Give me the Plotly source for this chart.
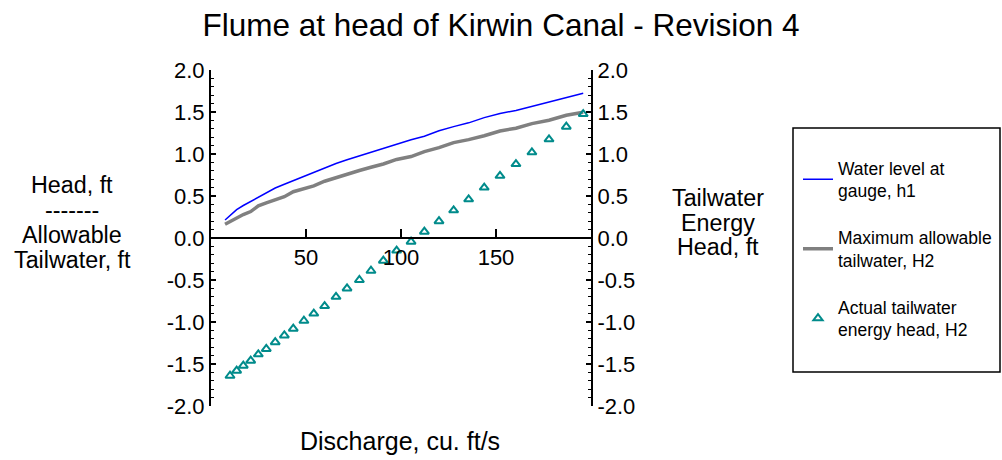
import plotly.graph_objects as go

# ---- data ----
discharge_line = [7.4, 10, 13.5, 17, 20.9, 24.9, 29.1, 33.8, 38.6, 43.3, 48.9, 54.1, 59.8, 65.8,
                  71.6, 78.1, 84.2, 90.7, 97.7, 105.3, 112.3, 120, 127.7, 135.6, 143.8, 152.1,
                  160.5, 168.9, 177.9, 187, 195.9]
h1_water_level = [0.214, 0.262, 0.338, 0.387, 0.435, 0.482, 0.538, 0.595, 0.640, 0.683, 0.740,
                  0.788, 0.833, 0.887, 0.931, 0.976, 1.026, 1.063, 1.114, 1.170, 1.211, 1.276,
                  1.326, 1.371, 1.433, 1.483, 1.518, 1.568, 1.614, 1.674, 1.724]
h2_max_allowable = [0.163, 0.196, 0.232, 0.279, 0.315, 0.383, 0.419, 0.452, 0.492, 0.551, 0.582,
                    0.621, 0.676, 0.720, 0.760, 0.804, 0.842, 0.881, 0.935, 0.970, 1.029, 1.076,
                    1.136, 1.171, 1.218, 1.274, 1.307, 1.362, 1.402, 1.461, 1.496]
discharge_points = [10.0, 13.5, 17.0, 20.9, 24.9, 29.1, 33.8, 38.6, 43.3, 48.9, 54.1, 59.8, 65.8,
                    71.6, 78.1, 84.2, 90.7, 97.7, 105.3, 112.3, 120.0, 127.7, 135.6, 143.8, 152.1,
                    160.5, 168.9, 177.9, 187.0, 195.9]
h2_actual = [-1.64, -1.58, -1.52, -1.46, -1.385, -1.32, -1.24, -1.16, -1.08, -0.985, -0.90, -0.81,
             -0.70, -0.60, -0.50, -0.39, -0.27, -0.15, -0.044, 0.075, 0.20, 0.33, 0.46, 0.60,
             0.74, 0.88, 1.02, 1.175, 1.325, 1.476]

x_tickvals = [50, 100, 150]
y_tickvals = [-2.0, -1.5, -1.0, -0.5, 0.0, 0.5, 1.0, 1.5, 2.0]
y_ticktext = ["-2.0", "-1.5", "-1.0", "-0.5", "0.0", "0.5", "1.0", "1.5", "2.0"]
y_range = [-2.0, 2.0]
x_range = [0, 200]

title_text = "Flume at head of Kirwin Canal - Revision 4"
left_title_lines = ["Head, ft", "-------", "Allowable", "Tailwater, ft"]
right_title_lines = ["Tailwater", "Energy", "Head, ft"]
x_title = "Discharge, cu. ft/s"

FONT = "Liberation Sans, Arial, sans-serif"

fig = go.Figure()
fig.add_trace(go.Scatter(x=discharge_line, y=h1_water_level, mode="lines",
                         name="Water level at<br>gauge, h1", legendgroup="a",
                         line=dict(color="#0000FF", width=1.5)))
fig.add_trace(go.Scatter(x=discharge_line, y=h2_max_allowable, mode="lines",
                         name="Maximum allowable<br>tailwater, H2", legendgroup="b",
                         line=dict(color="#808080", width=3.5)))
fig.add_trace(go.Scatter(x=discharge_points, y=h2_actual, mode="markers", yaxis="y2",
                         name="Actual tailwater<br>energy head, H2", legendgroup="c",
                         marker=dict(symbol="triangle-up-open", size=8, color="#008B8B",
                                     line=dict(width=2, color="#008B8B"))))

axis_common = dict(range=y_range, tickmode="array", tickvals=y_tickvals, ticktext=y_ticktext,
                   showgrid=False, zeroline=False, showline=True, linecolor="black", linewidth=2,
                   ticks="inside", ticklen=5, tickwidth=1.5, tickcolor="black",
                   minor=dict(dtick=0.1, tick0=0, ticks="inside", ticklen=3, tickwidth=1,
                              tickcolor="black"),
                   tickfont=dict(size=22, color="black", family=FONT), automargin=False)

fig.update_layout(
    width=1002, height=460,
    paper_bgcolor="white", plot_bgcolor="white",
    font=dict(family=FONT, color="black"),
    margin=dict(l=211, r=411, t=70, b=54, autoexpand=False),
    title=dict(text=title_text, x=0.5, xref="container", y=1 - 25 / 460, yref="container",
               xanchor="center", yanchor="middle", font=dict(size=31.5, color="black", family=FONT)),
    xaxis=dict(range=x_range, tickvals=x_tickvals, showgrid=False, zeroline=False,
               showline=True, linecolor="black", linewidth=2, anchor="free", position=0.5,
               ticks="inside", ticklen=8, tickwidth=1.5, tickcolor="black",
               tickfont=dict(size=22, color="black", family=FONT), automargin=False),
    yaxis=dict(side="left", **axis_common),
    yaxis2=dict(side="right", overlaying="y", anchor="x", **axis_common),
    showlegend=True,
    legend=dict(xref="container", yref="container", x=798 / 1002, y=1 - 150 / 460,
                xanchor="left", yanchor="top", font=dict(size=17.5, color="black", family=FONT),
                tracegroupgap=21, itemwidth=30, bgcolor="rgba(0,0,0,0)", borderwidth=0),
    shapes=[dict(type="rect", xref="paper", yref="paper",
                 x0=(793 - 211) / 380, x1=(1000 - 211) / 380,
                 y0=(406 - 372) / 336, y1=(406 - 128) / 336,
                 line=dict(color="black", width=1.5), fillcolor="rgba(0,0,0,0)")],
)

annotations = []
for i, t in enumerate(left_title_lines):
    annotations.append(dict(text=t, xref="paper", yref="paper", x=(72 - 211) / 380,
                            y=(406 - (185 + 25 * i)) / 336, xanchor="center", yanchor="middle",
                            showarrow=False, font=dict(size=23.3, color="black", family=FONT)))
for i, t in enumerate(right_title_lines):
    annotations.append(dict(text=t, xref="paper", yref="paper", x=(718 - 211) / 380,
                            y=(406 - (198 + 24.5 * i)) / 336, xanchor="center", yanchor="middle",
                            showarrow=False, font=dict(size=23.3, color="black", family=FONT)))
annotations.append(dict(text=x_title, xref="paper", yref="paper", x=(400 - 211) / 380,
                        y=(406 - 441) / 336, xanchor="center", yanchor="middle",
                        showarrow=False, font=dict(size=25, color="black", family=FONT)))
fig.update_layout(annotations=annotations)

fig.write_html("out.html", config={"displayModeBar": False},
               post_script="document.body.style.margin='0';")
